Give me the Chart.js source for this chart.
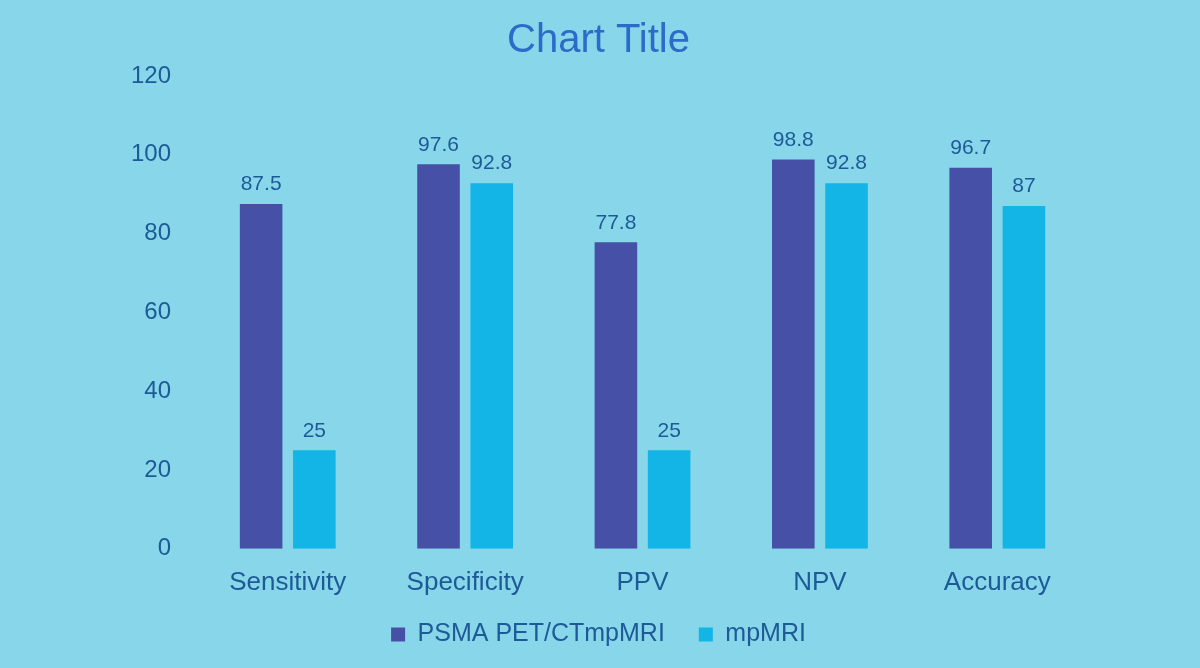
<!DOCTYPE html>
<html>
<head>
<meta charset="utf-8">
<script src="https://cdn.jsdelivr.net/npm/chart.js@4"></script>
<style>
  html, body { margin:0; padding:0; background:#88d6ea; }
  #wrap { width:1200px; height:668px; position:relative; }
</style>
</head>
<body>
<div id="wrap"><canvas id="c" width="1200" height="668"></canvas></div>
<script>
const categories = ["Sensitivity", "Specificity", "PPV", "NPV", "Accuracy"];
const seriesNames = ["PSMA PET/CTmpMRI", "mpMRI"];
const psmaValues = [87.5, 97.6, 77.8, 98.8, 96.7];
const mpmriValues = [25, 92.8, 25, 92.8, 87];
const yTicks = [0, 20, 40, 60, 80, 100, 120];

const textColor = "#1d5a96";
const fontFamily = "Arial, 'Liberation Sans', Helvetica, sans-serif";
const LEGEND_SHIFT = 28;

const valueLabels = {
  id: "valueLabels",
  afterDatasetsDraw(chart) {
    const ctx = chart.ctx;
    ctx.save();
    ctx.font = "21px " + fontFamily;
    ctx.fillStyle = textColor;
    ctx.textAlign = "center";
    ctx.textBaseline = "bottom";
    chart.data.datasets.forEach((ds, i) => {
      chart.getDatasetMeta(i).data.forEach((bar, j) => {
        ctx.fillText(String(ds.data[j]), bar.x, bar.y - 9);
      });
    });
    ctx.restore();
  }
};

// Trim the empty space above the legend items while keeping a wide gap between them
const legendTrim = {
  id: "legendTrim",
  beforeLayout(chart) {
    const lg = chart.legend;
    if (!lg || lg._trimmed) return;
    lg._trimmed = true;
    const fit = lg.fit;
    lg.fit = function () { fit.call(this); this.height -= LEGEND_SHIFT; };
    const draw = lg.draw;
    lg.draw = function () {
      const top = this.top;
      this.top = top - LEGEND_SHIFT;
      draw.call(this);
      this.top = top;
    };
  }
};

new Chart(document.getElementById("c"), {
  type: "bar",
  data: {
    labels: categories,
    datasets: [
      { label: seriesNames[0], data: psmaValues, backgroundColor: "#4650a6", borderWidth: 0 },
      { label: seriesNames[1], data: mpmriValues, backgroundColor: "#12b5e6", borderWidth: 0 }
    ]
  },
  options: {
    responsive: false,
    animation: false,
    devicePixelRatio: 1,
    layout: { padding: { left: 111, right: 114, top: 6, bottom: 11 } },
    datasets: { bar: { categoryPercentage: 0.6, barPercentage: 0.8 } },
    plugins: {
      title: {
        display: true,
        text: "Chart Title",
        color: "#2a6cc8",
        font: { family: fontFamily, size: 40, weight: "normal" },
        padding: { top: 11, bottom: 11 }
      },
      legend: {
        position: "bottom",
        labels: {
          color: textColor,
          font: { family: fontFamily, size: 25 },
          boxWidth: 14,
          boxHeight: 14,
          padding: 34
        }
      },
      tooltip: { enabled: false }
    },
    scales: {
      x: {
        grid: { display: false, drawTicks: false },
        border: { display: false },
        ticks: { color: textColor, font: { family: fontFamily, size: 26 }, padding: 18 }
      },
      y: {
        min: 0, max: 120,
        afterBuildTicks(axis) { axis.ticks = yTicks.map(v => ({ value: v })); },
        grid: { display: false },
        border: { display: false },
        ticks: { color: textColor, font: { family: fontFamily, size: 24 }, padding: 20 }
      }
    }
  },
  plugins: [valueLabels, legendTrim]
});
</script>
</body>
</html>
